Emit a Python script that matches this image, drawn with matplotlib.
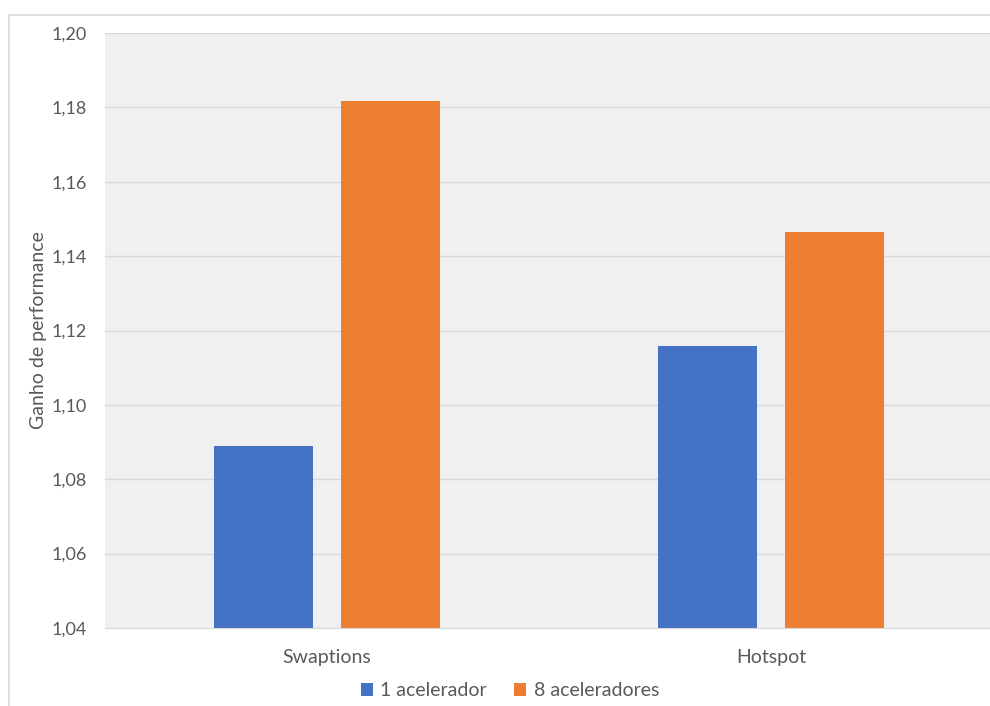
import numpy as np
import matplotlib.pyplot as plt
from matplotlib.patches import Rectangle

categorias = ["Swaptions", "Hotspot"]
um_acelerador = [1.0889, 1.1158]
oito_aceleradores = [1.1817, 1.1465]
yticks = [1.04, 1.06, 1.08, 1.10, 1.12, 1.14, 1.16, 1.18, 1.20]

plt.rcParams['font.family'] = ['Lato', 'DejaVu Sans']
cinza = '#595959'

fig = plt.figure(figsize=(9.9, 7.06), dpi=100)
# moldura do gráfico
fig.patches.append(Rectangle((9 / 990, -0.1), 1.2, 1 - 15 / 706 + 0.1,
                             transform=fig.transFigure, fill=False,
                             edgecolor='#d9d9d9', linewidth=1.2))

ax = fig.add_axes([105 / 990, 78 / 706, 888 / 990, 595 / 706])
ax.set_facecolor('#f0f0f0')

x = np.arange(len(categorias))
w = 0.223
off = 0.142
ax.bar(x - off, um_acelerador, width=w, color='#4472c4', label='1 acelerador', zorder=3)
ax.bar(x + off, oito_aceleradores, width=w, color='#ed7d31', label='8 aceleradores', zorder=3)

ax.set_xlim(-0.5, len(categorias) - 0.5)
ax.set_ylim(1.04, 1.20)
ax.set_yticks(yticks)
ax.set_yticklabels([f"{v:.2f}".replace('.', ',') for v in yticks])
ax.set_xticks(x)
ax.set_xticklabels(categorias)
ax.tick_params(axis='both', length=0, labelcolor=cinza)
ax.tick_params(axis='y', pad=13, labelsize=13)
ax.tick_params(axis='x', pad=15, labelsize=14)
ax.grid(axis='y', color='#d9d9d9', linewidth=1, zorder=0)
for s in ['left', 'right', 'top']:
    ax.spines[s].set_visible(False)
ax.spines['bottom'].set_color('#d9d9d9')
ax.spines['bottom'].set_zorder(4)

ax.set_ylabel("Ganho de performance", fontsize=14, color=cinza)
ax.yaxis.set_label_coords(-58 / 888, 0.5)

leg = fig.legend(loc='center', bbox_to_anchor=(510 / 990, 1 - 691 / 706), ncol=2,
                 frameon=False, fontsize=14, handlelength=0.6, handleheight=0.6,
                 handletextpad=0.4, columnspacing=1.4)
for t in leg.get_texts():
    t.set_color(cinza)

fig.savefig("out.png", dpi=100)
